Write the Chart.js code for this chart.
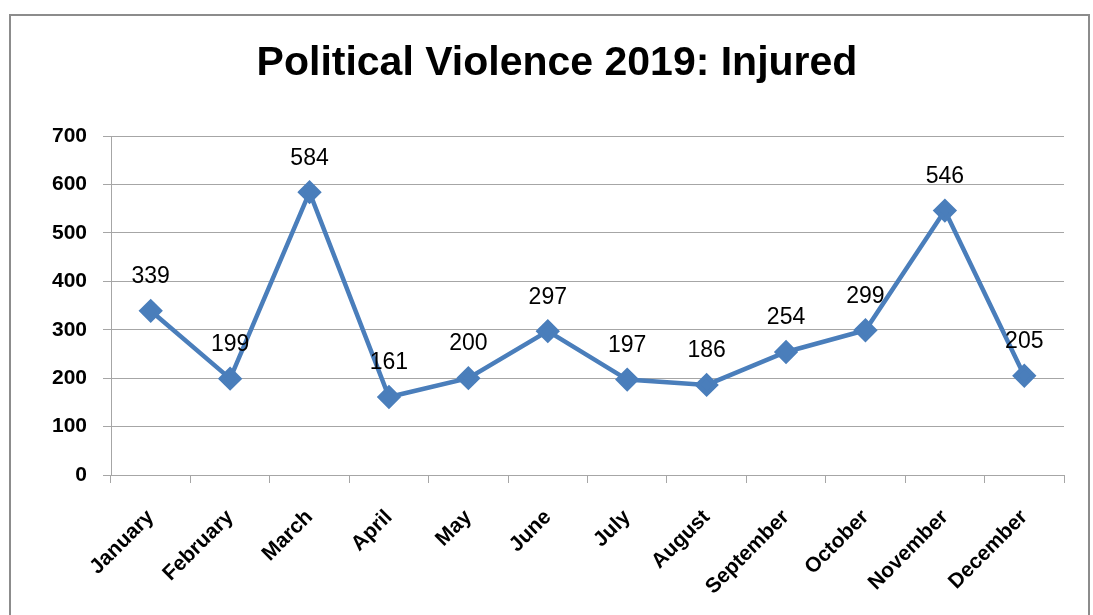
<!DOCTYPE html>
<html>
<head>
<meta charset="utf-8">
<script src="https://cdn.jsdelivr.net/npm/chart.js@4"></script>
<style>
  html, body { margin: 0; padding: 0; background: #fff; overflow: hidden; }
  #wrap { position: absolute; left: 0; top: 0; width: 1093px; height: 615px; }
</style>
</head>
<body>
<div id="wrap"><canvas id="chart"></canvas></div>
<script>
/* ── data ── */
const months = ['January', 'February', 'March', 'April', 'May', 'June',
                'July', 'August', 'September', 'October', 'November', 'December'];
const injured = [339, 199, 584, 161, 200, 297, 197, 186, 254, 299, 546, 205];
const yTicks = [0, 100, 200, 300, 400, 500, 600, 700];
const titleText = 'Political Violence 2019: Injured';

const FONT = "'Liberation Sans', Arial, sans-serif";
const BLUE = '#4a7ebb';
const GRID = '#a6a6a6';

// outer frame + title, drawn by hand so the title sits where the original does
const framePlugin = {
  id: 'frame',
  beforeDraw(chart) {
    const c = chart.ctx;
    c.save();
    c.strokeStyle = '#8c8c8c';
    c.lineWidth = 2;
    c.strokeRect(10, 15, 1079, 700);
    c.font = 'bold 41px ' + FONT;
    c.fillStyle = '#000';
    c.textAlign = 'center';
    c.textBaseline = 'middle';
    c.fillText(titleText, 557, 64);
    c.restore();
  }
};

// value labels above each point
const valueLabels = {
  id: 'valueLabels',
  afterDatasetsDraw(chart) {
    const c = chart.ctx;
    const meta = chart.getDatasetMeta(0);
    c.save();
    c.font = '23px ' + FONT;
    c.fillStyle = '#000';
    c.textAlign = 'center';
    c.textBaseline = 'middle';
    meta.data.forEach((pt, i) => {
      c.fillText(String(injured[i]), pt.x, pt.y - 34);
    });
    c.restore();
  }
};

new Chart(document.getElementById('chart'), {
  type: 'line',
  data: {
    labels: months,
    datasets: [{
      data: injured,
      borderColor: BLUE,
      backgroundColor: BLUE,
      borderWidth: 4.5,
      pointStyle: 'rectRot',
      pointRadius: 9,
      pointHoverRadius: 9,
      pointBackgroundColor: BLUE,
      pointBorderColor: BLUE,
      tension: 0
    }]
  },
  options: {
    responsive: true,
    maintainAspectRatio: false,
    animation: false,
    layout: { padding: { left: 0, right: 29, top: 136, bottom: 0 } },
    plugins: {
      legend: { display: false },
      tooltip: { enabled: false },
      title: { display: false }
    },
    scales: {
      x: {
        offset: true,
        grid: {
          offset: true,
          drawOnChartArea: false,
          drawTicks: true,
          tickLength: 8,
          color: GRID
        },
        border: { display: true, color: GRID, width: 1 },
        afterFit: axis => { axis.height = 140; },
        ticks: {
          color: '#000',
          font: { family: FONT, size: 21, weight: 'bold' },
          minRotation: 45,
          maxRotation: 45,
          padding: 22
        }
      },
      y: {
        min: 0,
        max: 700,
        afterBuildTicks: axis => { axis.ticks = yTicks.map(v => ({ value: v })); },
        afterFit: axis => { axis.width = 111; },
        grid: { color: GRID, tickLength: 8, lineWidth: 1 },
        border: { display: true, color: GRID, width: 1 },
        ticks: {
          color: '#000',
          font: { family: FONT, size: 21, weight: 'bold' },
          padding: 16
        }
      }
    }
  },
  plugins: [framePlugin, valueLabels]
});
</script>
</body>
</html>
